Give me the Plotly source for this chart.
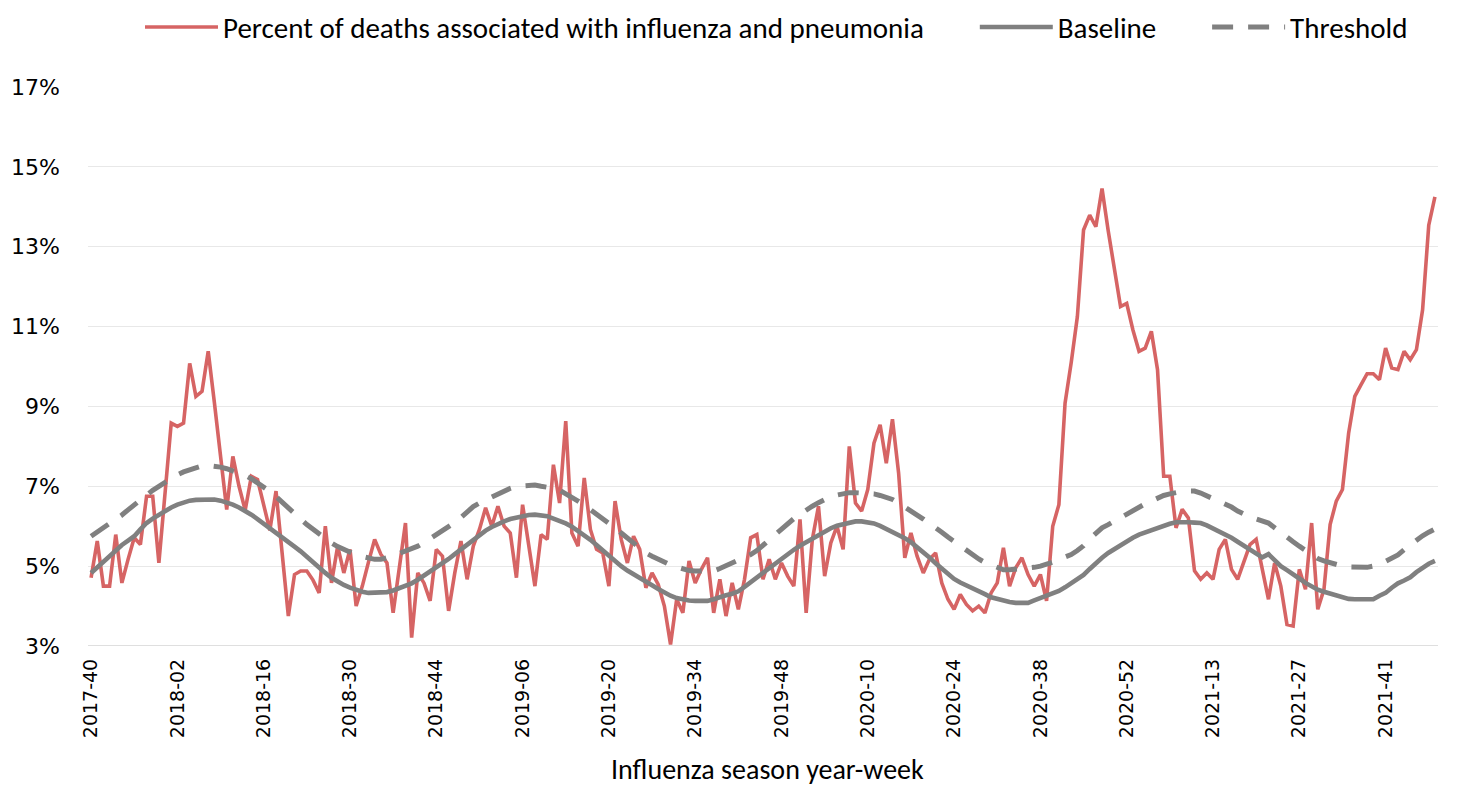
import plotly.graph_objects as go

# ---- data ----
pct = [4.71, 5.63, 4.5, 4.5, 5.79, 4.58, 5.17, 5.71, 5.54, 6.75, 6.75, 5.08, 6.83, 8.58, 8.5, 8.58, 10.08, 9.25, 9.38, 10.38,
       9.1, 7.7, 6.42, 7.75, 7.0, 6.4, 7.25, 7.17, 6.5, 5.9, 6.88, 5.4, 3.75, 4.79, 4.88, 4.88, 4.65, 4.33, 6.0, 4.58,
       5.5, 4.83, 5.42, 4.0, 4.5, 5.1, 5.67, 5.3, 5.08, 3.83, 4.96, 6.08, 3.21, 4.83, 4.58, 4.13, 5.42, 5.25, 3.88, 4.83,
       5.63, 4.67, 5.5, 5.92, 6.46, 6.0, 6.5, 6.0, 5.83, 4.71, 6.54, 5.5, 4.5, 5.79, 5.67, 7.54, 6.58, 8.63, 5.83, 5.5,
       7.21, 5.92, 5.42, 5.33, 4.5, 6.63, 5.67, 5.08, 5.75, 5.42, 4.46, 4.83, 4.54, 4.0, 3.04, 4.17, 3.83, 5.13, 4.58, 4.92,
       5.21, 3.83, 4.67, 3.75, 4.58, 3.92, 4.67, 5.71, 5.79, 4.67, 5.17, 4.67, 5.08, 4.75, 4.5, 6.17, 3.83, 5.67, 6.5, 4.75,
       5.58, 6.0, 5.42, 8.0, 6.58, 6.38, 6.92, 8.08, 8.54, 7.58, 8.68, 7.33, 5.21, 5.83, 5.25, 4.83, 5.17, 5.33, 4.58, 4.17,
       3.92, 4.29, 4.04, 3.88, 4.0, 3.83, 4.33, 4.58, 5.46, 4.5, 4.96, 5.21, 4.79, 4.5, 4.79, 4.13, 6.0, 6.54, 9.08, 10.1,
       11.25, 13.42, 13.79, 13.5, 14.46, 13.4, 12.45, 11.5, 11.58, 10.92, 10.38, 10.46, 10.88, 9.92, 7.25, 7.25, 5.96, 6.42, 6.21, 4.88,
       4.67, 4.83, 4.67, 5.42, 5.67, 4.92, 4.67, 5.08, 5.54, 5.67, 4.96, 4.17, 5.08, 4.5, 3.54, 3.5, 4.92, 4.42, 6.08, 3.92,
       4.42, 6.04, 6.63, 6.92, 8.33, 9.25, 9.54, 9.82, 9.82, 9.67, 10.46, 9.96, 9.92, 10.38, 10.17, 10.42, 11.42, 13.54, 14.25]

baseline = [4.83, 4.97, 5.1, 5.24, 5.4, 5.53, 5.64, 5.75, 5.92, 6.08, 6.19, 6.29, 6.38, 6.47, 6.54, 6.6, 6.64, 6.66, 6.67, 6.67,
            6.67, 6.64, 6.6, 6.54, 6.47, 6.39, 6.29, 6.18, 6.07, 5.95, 5.83, 5.71, 5.6, 5.49, 5.37, 5.23, 5.1, 4.96, 4.83, 4.71,
            4.61, 4.53, 4.46, 4.4, 4.36, 4.33, 4.33, 4.33, 4.35, 4.39, 4.44, 4.49, 4.57, 4.66, 4.76, 4.85, 4.95, 5.06, 5.18, 5.3,
            5.42, 5.53, 5.65, 5.77, 5.89, 5.98, 6.06, 6.12, 6.18, 6.22, 6.25, 6.28, 6.29, 6.27, 6.25, 6.19, 6.14, 6.07, 5.99, 5.89,
            5.78, 5.66, 5.53, 5.39, 5.25, 5.12, 5.0, 4.89, 4.79, 4.69, 4.6, 4.52, 4.43, 4.33, 4.26, 4.2, 4.16, 4.14, 4.13, 4.13,
            4.13, 4.17, 4.23, 4.27, 4.31, 4.37, 4.48, 4.6, 4.71, 4.82, 4.93, 5.05, 5.18, 5.3, 5.41, 5.51, 5.6, 5.7, 5.79, 5.87,
            5.95, 6.01, 6.05, 6.09, 6.12, 6.12, 6.1, 6.07, 6.01, 5.94, 5.87, 5.79, 5.7, 5.6, 5.48, 5.36, 5.22, 5.07, 4.93, 4.8,
            4.68, 4.59, 4.52, 4.46, 4.4, 4.3, 4.22, 4.17, 4.12, 4.1, 4.08, 4.08, 4.08, 4.14, 4.2, 4.25, 4.3, 4.38, 4.47, 4.58,
            4.67, 4.78, 4.93, 5.08, 5.21, 5.33, 5.43, 5.52, 5.61, 5.71, 5.79, 5.85, 5.9, 5.95, 6.01, 6.06, 6.1, 6.11, 6.1, 6.09,
            6.08, 6.02, 5.95, 5.88, 5.79, 5.71, 5.61, 5.52, 5.42, 5.32, 5.22, 5.3, 5.15, 5.0, 4.9, 4.81, 4.69, 4.58, 4.49, 4.41,
            4.36, 4.31, 4.27, 4.22, 4.18, 4.17, 4.17, 4.17, 4.17, 4.26, 4.33, 4.46, 4.57, 4.64, 4.72, 4.85, 4.97, 5.06, 5.13]

threshold = [5.75, 5.85, 5.95, 6.06, 6.17, 6.28, 6.41, 6.53, 6.68, 6.79, 6.9, 7.0, 7.1, 7.2, 7.29, 7.36, 7.42, 7.47, 7.51, 7.52,
             7.51, 7.48, 7.44, 7.39, 7.33, 7.27, 7.19, 7.09, 6.99, 6.87, 6.74, 6.61, 6.45, 6.31, 6.18, 6.04, 5.92, 5.79, 5.69, 5.58,
             5.49, 5.41, 5.34, 5.28, 5.24, 5.2, 5.17, 5.17, 5.2, 5.25, 5.32, 5.37, 5.43, 5.5, 5.59, 5.69, 5.78, 5.88, 5.98, 6.09,
             6.22, 6.36, 6.49, 6.58, 6.66, 6.73, 6.81, 6.88, 6.95, 7.0, 7.02, 7.04, 7.03, 7.0, 6.98, 6.95, 6.9, 6.82, 6.72, 6.63,
             6.53, 6.42, 6.31, 6.2, 6.08, 5.96, 5.83, 5.7, 5.57, 5.44, 5.33, 5.25, 5.17, 5.1, 5.03, 4.98, 4.93, 4.89, 4.88, 4.88,
             4.88, 4.88, 4.94, 5.01, 5.09, 5.14, 5.2, 5.29, 5.39, 5.53, 5.67, 5.81, 5.95, 6.08, 6.19, 6.3, 6.41, 6.5, 6.59, 6.68,
             6.74, 6.78, 6.82, 6.84, 6.84, 6.84, 6.83, 6.81, 6.77, 6.73, 6.67, 6.58, 6.49, 6.39, 6.28, 6.18, 6.08, 5.96, 5.85, 5.73,
             5.62, 5.49, 5.38, 5.28, 5.18, 5.09, 5.02, 4.95, 4.91, 4.91, 4.92, 4.92, 4.93, 4.97, 5.0, 5.04, 5.1, 5.17, 5.23, 5.29,
             5.39, 5.51, 5.68, 5.82, 5.96, 6.04, 6.13, 6.22, 6.31, 6.39, 6.48, 6.56, 6.63, 6.71, 6.77, 6.81, 6.85, 6.87, 6.88, 6.88,
             6.83, 6.76, 6.7, 6.63, 6.56, 6.48, 6.38, 6.29, 6.23, 6.18, 6.13, 6.08, 5.96, 5.83, 5.72, 5.61, 5.5, 5.39, 5.28, 5.19,
             5.13, 5.08, 5.04, 5.0, 4.98, 4.97, 4.96, 4.97, 5.0, 5.04, 5.12, 5.2, 5.28, 5.41, 5.53, 5.66, 5.76, 5.85, 5.93]

# Categories: MMWR year-weeks starting at 2017-40
start_year, start_week = 2017, 40
weeks_in_year = {2017: 52, 2018: 52, 2019: 52, 2020: 53, 2021: 52}
weeks = []
y, w = start_year, start_week
while len(weeks) < len(pct):
    weeks.append(f"{y}-{w:02d}")
    w += 1
    if w > weeks_in_year[y]:
        y, w = y + 1, 1

tick_step = 14
tick_labels = weeks[::tick_step]
y_ticks = [3, 5, 7, 9, 11, 13, 15, 17]

RED = "#D66464"
GRAY = "#808080"
LEG_FONT = "Carlito, Calibri, Lato, sans-serif"
PAD = "\u00a0" * 7

fig = go.Figure()
fig.add_trace(go.Scatter(x=weeks, y=pct, mode="lines",
                         name="Percent of deaths associated with influenza and pneumonia" + PAD,
                         line=dict(color=RED, width=3.6)))
fig.add_trace(go.Scatter(x=weeks, y=baseline, mode="lines", name="Baseline" + PAD,
                         line=dict(color=GRAY, width=4.6)))
fig.add_trace(go.Scatter(x=weeks, y=threshold, mode="lines", name="Threshold",
                         line=dict(color=GRAY, width=5, dash="21px,15px")))

# the page body adds an 8px offset, so the figure is 8px smaller and margins shifted
fig.update_layout(
    width=1450, height=780,
    margin=dict(l=80, r=20, t=79, b=142, autoexpand=False),
    paper_bgcolor="white", plot_bgcolor="white",
    showlegend=True,
    legend=dict(orientation="h", x=0.51, xanchor="center", y=1.107, yanchor="middle",
                font=dict(family=LEG_FONT, size=29, color="#000000"),
                itemwidth=73, tracegroupgap=0),
    xaxis=dict(type="category", categoryorder="array", categoryarray=weeks,
               range=[-0.5, len(weeks) - 0.5],
               tickmode="array", tickvals=tick_labels, ticktext=tick_labels,
               tickangle=-90, tickfont=dict(family="DejaVu Sans", size=19, color="#000000"),
               showgrid=False, showline=False, zeroline=False, ticks="", ticklabelstandoff=8),
    yaxis=dict(range=[3, 17], tickmode="array", tickvals=y_ticks,
               ticktext=[f"{v}%" for v in y_ticks],
               tickfont=dict(family="DejaVu Sans", size=22, color="#000000"),
               showgrid=True, gridcolor="#e8e8e8", gridwidth=1.3,
               zeroline=False, showline=False, ticks="", ticklabelstandoff=27),
    annotations=[dict(text="Influenza season year-week", xref="paper", yref="paper",
                      x=0.503, y=-0.221, xanchor="center", yanchor="middle", showarrow=False,
                      font=dict(family=LEG_FONT, size=28, color="#000000"))],
)
# darker line on the 3% grid level (chart floor)
fig.add_shape(type="line", xref="paper", yref="y", x0=0, x1=1, y0=3, y1=3,
              line=dict(color="#d4d4d4", width=1.5), layer="below")

fig.write_html("out.html")
